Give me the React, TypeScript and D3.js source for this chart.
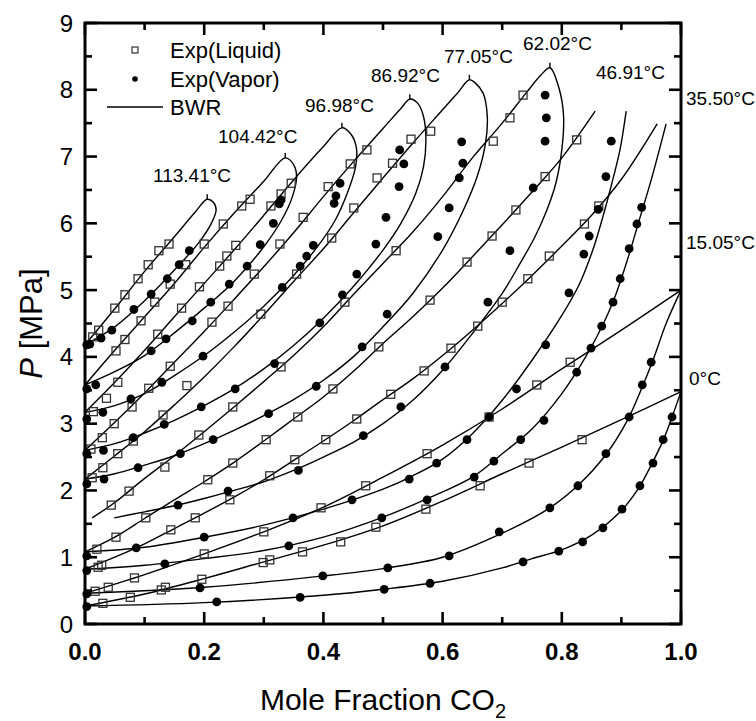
import React from 'react';
import * as d3 from 'd3';

type Pt = [number, number];

// ---------- axis data ----------
const xMajor = [0, 0.2, 0.4, 0.6, 0.8, 1.0];
const xMajorLabels = ['0.0', '0.2', '0.4', '0.6', '0.8', '1.0'];
const xMinor = [0.1, 0.3, 0.5, 0.7, 0.9];
const yMajor = [0, 1, 2, 3, 4, 5, 6, 7, 8, 9];
const yMinor = [0.5, 1.5, 2.5, 3.5, 4.5, 5.5, 6.5, 7.5, 8.5];

// ---------- isotherm labels ----------
const isoLabels = ['0°C', '15.05°C', '35.50°C', '46.91°C', '62.02°C', '77.05°C', '86.92°C', '96.98°C', '104.42°C', '113.41°C'];

// ---------- BWR curves (x CO2, P MPa) ----------
const bwr0Liq: Pt[] = [[0, 0.27], [0.1, 0.45], [0.2, 0.68], [0.3, 0.93], [0.4, 1.18], [0.5, 1.47], [0.6, 1.84], [0.7, 2.25], [0.8, 2.65], [0.9, 3.06], [1.0, 3.48]];
const bwr0Vap: Pt[] = [[0, 0.27], [0.2, 0.32], [0.4, 0.43], [0.5, 0.52], [0.6, 0.64], [0.7, 0.84], [0.75, 0.98], [0.8, 1.11], [0.85, 1.33], [0.9, 1.7], [0.93, 2.05], [0.95, 2.38], [0.97, 2.75], [0.985, 3.1], [1.0, 3.48]];
const bwr15Liq: Pt[] = [[0, 0.46], [0.1, 0.74], [0.2, 1.05], [0.3, 1.38], [0.4, 1.75], [0.5, 2.2], [0.6, 2.68], [0.7, 3.22], [0.8, 3.82], [0.9, 4.4], [1.0, 5.0]];
const bwr15Vap: Pt[] = [[0, 0.46], [0.2, 0.55], [0.4, 0.72], [0.5, 0.83], [0.6, 1.0], [0.7, 1.36], [0.78, 1.74], [0.83, 2.1], [0.875, 2.55], [0.91, 3.05], [0.935, 3.55], [0.955, 4.0], [0.975, 4.5], [1.0, 5.0]];
const bwr35Liq: Pt[] = [[0, 0.82], [0.05, 1.0], [0.1, 1.2], [0.15, 1.43], [0.2, 1.66], [0.25, 1.9], [0.3, 2.16], [0.35, 2.45], [0.4, 2.74], [0.45, 3.04], [0.5, 3.36], [0.55, 3.67], [0.6, 4.02], [0.65, 4.4], [0.7, 4.8], [0.75, 5.22], [0.8, 5.66], [0.85, 6.12], [0.9, 6.66], [0.96, 7.49]];
const bwr35Vap: Pt[] = [[0, 0.82], [0.1, 0.88], [0.2, 0.98], [0.3, 1.1], [0.4, 1.3], [0.5, 1.6], [0.58, 1.9], [0.65, 2.2], [0.7, 2.55], [0.75, 2.92], [0.8, 3.45], [0.84, 4.0], [0.87, 4.5], [0.89, 4.92], [0.91, 5.45], [0.93, 6.05], [0.95, 6.65], [0.975, 7.49]];
const bwr46Liq: Pt[] = [[0, 1.08], [0.05, 1.3], [0.1, 1.58], [0.15, 1.86], [0.2, 2.13], [0.25, 2.42], [0.3, 2.74], [0.35, 3.07], [0.4, 3.4], [0.45, 3.78], [0.5, 4.2], [0.55, 4.6], [0.6, 5.03], [0.65, 5.5], [0.7, 5.98], [0.75, 6.47], [0.8, 6.98], [0.856, 7.68]];
const bwr46Vap: Pt[] = [[0, 1.08], [0.1, 1.15], [0.2, 1.3], [0.3, 1.48], [0.4, 1.72], [0.5, 2.02], [0.55, 2.22], [0.6, 2.47], [0.65, 2.85], [0.7, 3.35], [0.75, 3.95], [0.8, 4.62], [0.83, 5.1], [0.852, 5.6], [0.869, 6.1], [0.884, 6.6], [0.898, 7.12], [0.908, 7.68]];
const bwr62Liq: Pt[] = [[0.012, 1.59], [0.05, 1.82], [0.1, 2.18], [0.15, 2.52], [0.2, 2.88], [0.25, 3.25], [0.3, 3.63], [0.35, 4.02], [0.4, 4.45], [0.45, 4.93], [0.5, 5.4], [0.55, 5.87], [0.6, 6.4], [0.65, 6.98], [0.7, 7.5], [0.74, 7.95], [0.765, 8.22], [0.78, 8.33]];
const bwr62Vap: Pt[] = [[0.049, 1.59], [0.1, 1.68], [0.15, 1.77], [0.2, 1.88], [0.25, 2.0], [0.3, 2.13], [0.35, 2.3], [0.4, 2.5], [0.45, 2.72], [0.5, 3.0], [0.55, 3.35], [0.6, 3.8], [0.65, 4.35], [0.7, 4.95], [0.73, 5.4], [0.755, 5.8], [0.775, 6.2], [0.79, 6.6], [0.8, 7.1], [0.803, 7.6], [0.796, 8.0], [0.78, 8.33]];
const bwr77Liq: Pt[] = [[0, 2.17], [0.05, 2.52], [0.1, 2.88], [0.15, 3.28], [0.2, 3.7], [0.25, 4.15], [0.3, 4.63], [0.35, 5.13], [0.4, 5.62], [0.45, 6.15], [0.5, 6.68], [0.55, 7.2], [0.6, 7.7], [0.625, 7.95], [0.645, 8.15]];
const bwr77Vap: Pt[] = [[0, 2.17], [0.05, 2.25], [0.1, 2.38], [0.15, 2.52], [0.2, 2.7], [0.25, 2.9], [0.3, 3.12], [0.35, 3.36], [0.4, 3.65], [0.45, 4.0], [0.5, 4.45], [0.55, 4.95], [0.6, 5.6], [0.635, 6.2], [0.658, 6.7], [0.672, 7.2], [0.675, 7.6], [0.668, 7.95], [0.655, 8.1], [0.645, 8.15]];
const bwr86Liq: Pt[] = [[0, 2.6], [0.05, 3.02], [0.1, 3.46], [0.15, 3.92], [0.2, 4.38], [0.25, 4.86], [0.3, 5.35], [0.35, 5.86], [0.4, 6.4], [0.45, 6.92], [0.5, 7.42], [0.53, 7.72], [0.545, 7.86]];
const bwr86Vap: Pt[] = [[0, 2.6], [0.05, 2.7], [0.1, 2.86], [0.15, 3.05], [0.2, 3.27], [0.25, 3.52], [0.3, 3.82], [0.35, 4.17], [0.4, 4.58], [0.45, 5.05], [0.5, 5.6], [0.53, 6.0], [0.555, 6.45], [0.568, 6.85], [0.572, 7.25], [0.568, 7.6], [0.558, 7.8], [0.545, 7.86]];
const bwr96Liq: Pt[] = [[0, 3.17], [0.05, 3.62], [0.1, 4.1], [0.15, 4.6], [0.2, 5.1], [0.25, 5.6], [0.3, 6.12], [0.35, 6.65], [0.4, 7.15], [0.431, 7.43]];
const bwr96Vap: Pt[] = [[0, 3.17], [0.05, 3.27], [0.1, 3.45], [0.15, 3.72], [0.2, 4.02], [0.25, 4.37], [0.3, 4.76], [0.35, 5.22], [0.39, 5.65], [0.42, 6.05], [0.44, 6.45], [0.454, 6.85], [0.455, 7.15], [0.445, 7.35], [0.431, 7.43]];
const bwr104Liq: Pt[] = [[0, 3.58], [0.05, 4.1], [0.1, 4.6], [0.15, 5.1], [0.2, 5.64], [0.25, 6.15], [0.3, 6.63], [0.336, 6.98]];
const bwr104Vap: Pt[] = [[0, 3.58], [0.05, 3.78], [0.1, 4.02], [0.15, 4.36], [0.2, 4.73], [0.25, 5.13], [0.3, 5.65], [0.33, 6.05], [0.348, 6.4], [0.355, 6.7], [0.35, 6.88], [0.336, 6.98]];
const bwr113Liq: Pt[] = [[0, 4.18], [0.05, 4.72], [0.1, 5.28], [0.15, 5.8], [0.185, 6.17], [0.205, 6.36]];
const bwr113Vap: Pt[] = [[0, 4.18], [0.05, 4.45], [0.1, 4.84], [0.15, 5.3], [0.19, 5.7], [0.212, 6.0], [0.22, 6.2], [0.215, 6.32], [0.205, 6.36]];

// ---------- experimental liquid (open squares) ----------
const exp0Liq: Pt[] = [[0.03, 0.31], [0.076, 0.4], [0.128, 0.51], [0.135, 0.55], [0.196, 0.67], [0.299, 0.92], [0.31, 0.96], [0.365, 1.08], [0.429, 1.23], [0.488, 1.45], [0.572, 1.72], [0.663, 2.07], [0.745, 2.41], [0.834, 2.76]];
const exp15Liq: Pt[] = [[0.017, 0.49], [0.039, 0.55], [0.083, 0.69], [0.2, 1.05], [0.3, 1.38], [0.396, 1.74], [0.471, 2.07], [0.574, 2.55], [0.678, 3.1], [0.758, 3.58], [0.814, 3.92]];
const exp35Liq: Pt[] = [[0.022, 0.85], [0.028, 0.88], [0.144, 1.41], [0.185, 1.59], [0.243, 1.86], [0.31, 2.22], [0.352, 2.46], [0.404, 2.76], [0.456, 3.07], [0.513, 3.44], [0.569, 3.79], [0.614, 4.13], [0.659, 4.46], [0.7, 4.82], [0.743, 5.17], [0.779, 5.51], [0.838, 5.99], [0.862, 6.26]];
const exp46Liq: Pt[] = [[0.02, 1.12], [0.052, 1.3], [0.102, 1.59], [0.206, 2.16], [0.248, 2.41], [0.304, 2.76], [0.357, 3.1], [0.416, 3.52], [0.493, 4.15], [0.579, 4.85], [0.641, 5.42], [0.683, 5.81], [0.723, 6.2], [0.772, 6.7], [0.825, 7.25]];
const exp62Liq: Pt[] = [[0.044, 1.78], [0.074, 1.99], [0.134, 2.35], [0.191, 2.83], [0.248, 3.25], [0.329, 3.85], [0.436, 4.82], [0.522, 5.59], [0.685, 7.23], [0.713, 7.58], [0.735, 7.92]];
const exp77Liq: Pt[] = [[0.012, 2.19], [0.03, 2.34], [0.055, 2.55], [0.081, 2.74], [0.131, 3.13], [0.171, 3.57], [0.295, 4.64], [0.355, 5.24], [0.414, 5.78], [0.451, 6.23], [0.49, 6.68], [0.516, 6.9], [0.547, 7.26], [0.58, 7.38]];
const exp86Liq: Pt[] = [[0.01, 2.62], [0.029, 2.79], [0.049, 3.0], [0.079, 3.25], [0.107, 3.53], [0.143, 3.86], [0.213, 4.52], [0.24, 4.76], [0.284, 5.24], [0.327, 5.69], [0.366, 6.09], [0.408, 6.55], [0.445, 6.89], [0.473, 7.1]];
const exp96Liq: Pt[] = [[0.014, 3.18], [0.036, 3.38], [0.055, 3.62], [0.122, 4.34], [0.162, 4.73], [0.192, 5.05], [0.226, 5.36], [0.238, 5.51], [0.253, 5.67], [0.312, 6.26], [0.329, 6.44], [0.346, 6.6]];
const exp104Liq: Pt[] = [[0.052, 4.09], [0.067, 4.26], [0.094, 4.54], [0.117, 4.82], [0.143, 5.09], [0.169, 5.38], [0.2, 5.69], [0.232, 5.99], [0.263, 6.26], [0.277, 6.36]];
const exp113Liq: Pt[] = [[0.013, 4.3], [0.023, 4.4], [0.05, 4.73], [0.067, 4.93], [0.089, 5.17], [0.106, 5.38], [0.124, 5.59], [0.141, 5.69]];

// ---------- experimental vapor (filled circles) ----------
const exp0Vap: Pt[] = [[0.003, 0.26], [0.221, 0.33], [0.361, 0.4], [0.502, 0.52], [0.579, 0.61], [0.735, 0.93], [0.795, 1.09], [0.835, 1.23], [0.869, 1.44], [0.901, 1.72], [0.931, 2.07], [0.953, 2.41], [0.97, 2.76], [0.985, 3.1]];
const exp15Vap: Pt[] = [[0.003, 0.45], [0.193, 0.54], [0.399, 0.72], [0.508, 0.84], [0.611, 1.02], [0.695, 1.38], [0.78, 1.74], [0.827, 2.07], [0.874, 2.55], [0.913, 3.1], [0.935, 3.58], [0.95, 3.92]];
const exp35Vap: Pt[] = [[0.003, 0.8], [0.134, 0.9], [0.342, 1.17], [0.498, 1.59], [0.574, 1.86], [0.653, 2.2], [0.686, 2.44], [0.731, 2.76], [0.77, 3.05], [0.825, 3.77], [0.849, 4.13], [0.867, 4.46], [0.886, 4.82], [0.898, 5.17], [0.913, 5.62], [0.926, 5.99], [0.934, 6.24]];
const exp46Vap: Pt[] = [[0.003, 1.02], [0.086, 1.14], [0.2, 1.3], [0.349, 1.59], [0.448, 1.86], [0.544, 2.17], [0.59, 2.41], [0.641, 2.76], [0.678, 3.1], [0.724, 3.52], [0.773, 4.18], [0.812, 4.96], [0.837, 5.54], [0.846, 5.81], [0.861, 6.21], [0.874, 6.7], [0.883, 7.23]];
const exp62Vap: Pt[] = [[0.156, 1.78], [0.24, 1.99], [0.358, 2.3], [0.467, 2.82], [0.53, 3.25], [0.604, 3.85], [0.676, 4.82], [0.713, 5.59], [0.752, 6.53], [0.772, 7.23], [0.774, 7.58], [0.772, 7.92]];
const exp77Vap: Pt[] = [[0.003, 2.1], [0.032, 2.17], [0.089, 2.34], [0.16, 2.55], [0.215, 2.76], [0.308, 3.15], [0.388, 3.56], [0.465, 4.15], [0.507, 4.64], [0.592, 5.8], [0.611, 6.23], [0.628, 6.68], [0.634, 6.9], [0.632, 7.22]];
const exp86Vap: Pt[] = [[0.003, 2.55], [0.031, 2.6], [0.081, 2.79], [0.133, 2.99], [0.195, 3.25], [0.252, 3.52], [0.318, 3.9], [0.394, 4.51], [0.432, 4.93], [0.456, 5.24], [0.488, 5.69], [0.505, 6.09], [0.527, 6.55], [0.535, 6.89], [0.528, 7.1]];
const exp96Vap: Pt[] = [[0.003, 3.07], [0.03, 3.17], [0.077, 3.37], [0.129, 3.62], [0.198, 4.01], [0.331, 5.04], [0.361, 5.36], [0.372, 5.51], [0.383, 5.67], [0.418, 6.3], [0.421, 6.41], [0.428, 6.6]];
const exp104Vap: Pt[] = [[0.003, 3.52], [0.018, 3.58], [0.111, 4.09], [0.136, 4.27], [0.18, 4.54], [0.211, 4.82], [0.242, 5.09], [0.272, 5.36], [0.294, 5.68], [0.316, 6.0], [0.326, 6.29], [0.329, 6.35]];
const exp113Vap: Pt[] = [[0.003, 4.18], [0.008, 4.19], [0.027, 4.28], [0.045, 4.4], [0.082, 4.71], [0.111, 4.94], [0.138, 5.17], [0.158, 5.38], [0.175, 5.59]];

// ---------- layout (pixels) ----------
const W = 756, H = 721;
const PL = 85, PR = 681, PT = 23, PB = 624;
const labelPos: [number, number][] = [
  [689, 385], [686, 249], [686, 105], [596, 79], [523, 50], [444, 63], [371, 82], [305, 112], [218, 143], [153, 182],
];
const FONT = "'Liberation Sans', Arial, Helvetica, sans-serif";

interface Iso { liq: Pt[]; vap: Pt[]; loop: boolean; liqExp: Pt[]; vapExp: Pt[]; }
const isotherms: Iso[] = [
  { liq: bwr0Liq, vap: bwr0Vap, loop: false, liqExp: exp0Liq, vapExp: exp0Vap },
  { liq: bwr15Liq, vap: bwr15Vap, loop: false, liqExp: exp15Liq, vapExp: exp15Vap },
  { liq: bwr35Liq, vap: bwr35Vap, loop: false, liqExp: exp35Liq, vapExp: exp35Vap },
  { liq: bwr46Liq, vap: bwr46Vap, loop: false, liqExp: exp46Liq, vapExp: exp46Vap },
  { liq: bwr62Liq, vap: bwr62Vap, loop: true, liqExp: exp62Liq, vapExp: exp62Vap },
  { liq: bwr77Liq, vap: bwr77Vap, loop: true, liqExp: exp77Liq, vapExp: exp77Vap },
  { liq: bwr86Liq, vap: bwr86Vap, loop: true, liqExp: exp86Liq, vapExp: exp86Vap },
  { liq: bwr96Liq, vap: bwr96Vap, loop: true, liqExp: exp96Liq, vapExp: exp96Vap },
  { liq: bwr104Liq, vap: bwr104Vap, loop: true, liqExp: exp104Liq, vapExp: exp104Vap },
  { liq: bwr113Liq, vap: bwr113Vap, loop: true, liqExp: exp113Liq, vapExp: exp113Vap },
];

export default function App() {
  const xs = d3.scaleLinear().domain([0, 1]).range([PL, PR]);
  const ys = d3.scaleLinear().domain([0, 9]).range([PB, PT]);
  const line = d3.line<Pt>().x(d => xs(d[0])).y(d => ys(d[1])).curve(d3.curveCatmullRom.alpha(0.5));

  const curves: string[] = [];
  const peaks: Pt[] = [];
  isotherms.forEach(iso => {
    if (iso.loop) {
      const pts = [...iso.liq, ...iso.vap.slice(0, -1).reverse()];
      curves.push(line(pts) || '');
      peaks.push(iso.liq[iso.liq.length - 1]);
    } else {
      curves.push(line(iso.liq) || '');
      curves.push(line(iso.vap) || '');
    }
  });

  const sq = 8;
  return (
    <svg width={W} height={H} style={{ position: 'absolute', left: 0, top: 0, background: '#fff' }} fontFamily={FONT}>
      <rect x={0} y={0} width={W} height={H} fill="#fff" />
      {/* curves */}
      <g fill="none" stroke="#000" strokeWidth={1.4}>
        {curves.map((d, i) => <path key={i} d={d} />)}
        {peaks.map((p, i) => (
          <line key={'pk' + i} x1={xs(p[0])} x2={xs(p[0])} y1={ys(p[1])} y2={ys(p[1]) - 5} />
        ))}
      </g>
      {/* experimental points */}
      <g fill="none" stroke="#333" strokeWidth={1.3}>
        {isotherms.flatMap((iso, k) => iso.liqExp.map((p, i) => (
          <rect key={`l${k}-${i}`} x={xs(p[0]) - sq / 2} y={ys(p[1]) - sq / 2} width={sq} height={sq} />
        )))}
      </g>
      <g fill="#000">
        {isotherms.flatMap((iso, k) => iso.vapExp.map((p, i) => (
          <circle key={`v${k}-${i}`} cx={xs(p[0])} cy={ys(p[1])} r={4.4} />
        )))}
      </g>
      {/* frame */}
      <rect x={PL} y={PT} width={PR - PL} height={PB - PT} fill="none" stroke="#000" strokeWidth={3} />
      {/* ticks */}
      <g stroke="#000" strokeWidth={2.6}>
        {xMajor.map(v => (
          <g key={'xM' + v}>
            <line x1={xs(v)} x2={xs(v)} y1={PB} y2={PB - 12} />
            <line x1={xs(v)} x2={xs(v)} y1={PT} y2={PT + 12} />
          </g>
        ))}
        {xMinor.map(v => (
          <g key={'xm' + v}>
            <line x1={xs(v)} x2={xs(v)} y1={PB} y2={PB - 7} />
            <line x1={xs(v)} x2={xs(v)} y1={PT} y2={PT + 7} />
          </g>
        ))}
        {yMajor.map(v => (
          <g key={'yM' + v}>
            <line x1={PL} x2={PL + 12} y1={ys(v)} y2={ys(v)} />
            <line x1={PR} x2={PR - 12} y1={ys(v)} y2={ys(v)} />
          </g>
        ))}
        {yMinor.map(v => (
          <g key={'ym' + v}>
            <line x1={PL} x2={PL + 7} y1={ys(v)} y2={ys(v)} />
            <line x1={PR} x2={PR - 7} y1={ys(v)} y2={ys(v)} />
          </g>
        ))}
      </g>
      {/* tick labels */}
      <g fontSize={24} fill="#000">
        {yMajor.map(v => (
          <text key={'yl' + v} x={PL - 12} y={ys(v) + 8.5} textAnchor="end">{v}</text>
        ))}
      </g>
      <g fontSize={24} fontWeight="bold" fill="#000">
        {xMajor.map((v, i) => (
          <text key={'xl' + v} x={xs(v)} y={660} textAnchor="middle">{xMajorLabels[i]}</text>
        ))}
      </g>
      {/* axis titles */}
      <text x={(PL + PR) / 2} y={710} textAnchor="middle" fontSize={30} fill="#000">
        Mole Fraction CO<tspan fontSize={20} dy={8}>2</tspan>
      </text>
      <text transform={`translate(42, ${(PT + PB) / 2}) rotate(-90)`} textAnchor="middle" fontSize={31} fill="#000">
        <tspan fontStyle="italic">P</tspan> [MPa]
      </text>
      {/* isotherm labels */}
      <g fontSize={19} fill="#000">
        {isoLabels.map((t, i) => (
          <text key={'il' + i} x={labelPos[i][0]} y={labelPos[i][1]}>{t}</text>
        ))}
      </g>
      {/* legend */}
      <rect x={132} y={47} width={6} height={6} fill="none" stroke="#333" strokeWidth={1.2} />
      <text x={170} y={58} fontSize={22}>Exp(Liquid)</text>
      <circle cx={135} cy={79} r={2.8} fill="#000" />
      <text x={170} y={87} fontSize={22}>Exp(Vapor)</text>
      <line x1={107} x2={163} y1={107} y2={107} stroke="#000" strokeWidth={1.4} />
      <text x={170} y={115} fontSize={22}>BWR</text>
    </svg>
  );
}
